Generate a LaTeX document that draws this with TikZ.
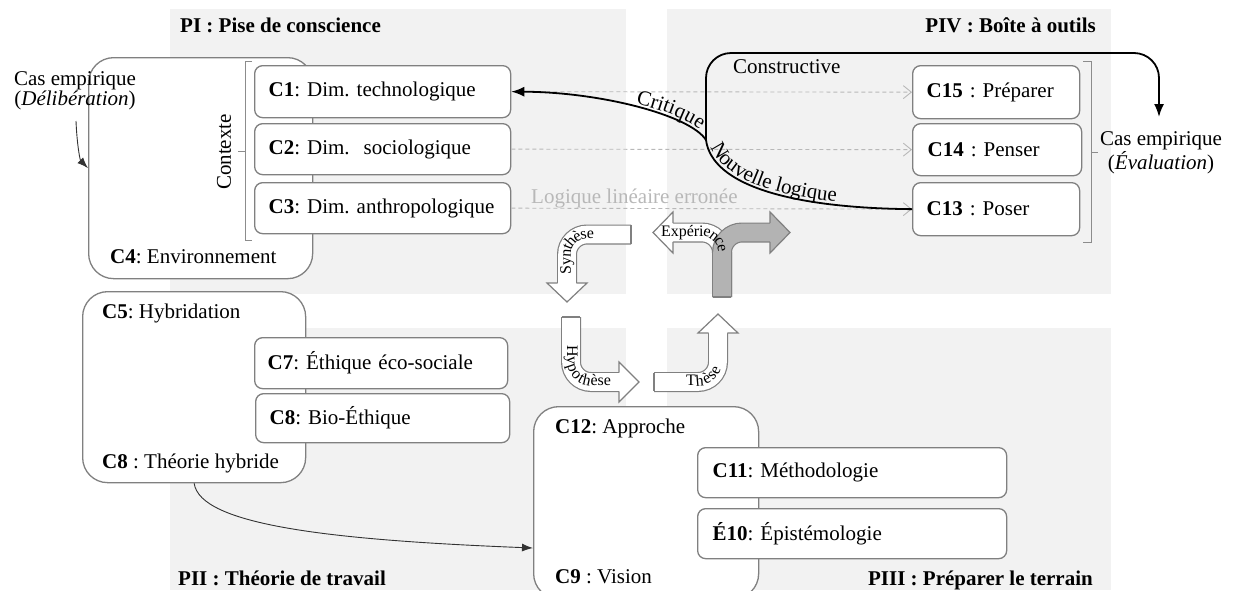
\documentclass[tikz,border=0pt]{standalone}
\usepackage{fontspec}
\setmainfont{Liberation Serif}
\usetikzlibrary{arrows.meta,decorations.text}
\frenchspacing

\definecolor{zone}{HTML}{F2F2F2}
\definecolor{edge}{HTML}{808080}
\definecolor{faint}{HTML}{B8B8B8}
\definecolor{barrow}{HTML}{B3B3B3}
\definecolor{bracketgray}{HTML}{8C8C8C}

\newcommand{\lblfont}{\fontsize{21}{23}\selectfont}
\newcommand{\arwfont}{\fontsize{16}{18}\selectfont}

\tikzset{
  zonebg/.style={fill=zone, draw=none},
  bigbox/.style={draw=edge, line width=1.3pt, fill=white, rounded corners=25pt,
    inner sep=0pt, anchor=north west},
  cbox/.style={draw=edge, line width=1.3pt, fill=white, rounded corners=8pt,
    inner xsep=14pt, inner ysep=0pt, anchor=north west, align=left},
  title/.style={font=\lblfont\bfseries, inner sep=0pt},
  plain/.style={inner sep=0pt},
  faintlink/.style={draw=faint, line width=0.9pt, dash pattern=on 4pt off 3pt,
    -{Straight Barb[length=8pt,width=13pt,line width=0.9pt]}},
  boldlink/.style={draw=black, line width=1.8pt, -{Latex[length=13pt,width=10pt]}},
  thinlink/.style={draw=black!80, line width=0.9pt, -{Latex[length=11pt,width=8pt]}},
  bracket/.style={draw=bracketgray, line width=1pt},
  shaft/.style={draw=edge, line width=1.2pt, double=white, double distance=17.6pt,
    rounded corners=20pt},
  grayshaft/.style={shaft, double=barrow},
  head/.style={draw=edge, line width=1.2pt, fill=white, line join=miter},
  arwtext/.style={decorate, decoration={text along path, raise=-3.8pt,
    text={|\arwfont|#1}}},
  curvetext/.style={decorate, decoration={text along path, raise=3pt,
    text={|\lblfont|#1}}}
}

\begin{document}
\begin{tikzpicture}[x=1pt, y=-1pt, font=\lblfont]
\useasboundingbox (0,0) rectangle (1233,590);
\clip (0,0) rectangle (1233,590);

% the four phase zones
\fill[zonebg] (170,9) rectangle (626,294);
\fill[zonebg] (667,9) rectangle (1111,294);
\fill[zonebg] (170,328) rectangle (626,590);
\fill[zonebg] (667,328) rectangle (1111,590);

\node[title, anchor=base west] (p1) at (180,32) {PI : Pise de conscience};
\node[title, anchor=base east] (p4) at (1096,32) {PIV : Boîte à outils};
\node[title, anchor=base west] (p2) at (178,585) {PII : Théorie de travail};
\node[title, anchor=base east] (p3) at (1093,585) {PIII : Préparer le terrain};

% large container boxes
\node[bigbox, minimum width=224pt, minimum height=221pt] (c4) at (88,57) {};
\node[bigbox, minimum width=223pt, minimum height=191pt] (c5) at (82,291) {};
\node[bigbox, minimum width=225pt, minimum height=192pt] (c12) at (533,406) {};

\node[plain, anchor=base west] (c4l) at (110,263) {\textbf{C4}: Environnement};
\node[plain, anchor=base west] (c5l) at (102,318) {\textbf{C5}: Hybridation};
\node[plain, anchor=base west] (c8l) at (102,468) {\textbf{C8} : Théorie hybride};
\node[plain, anchor=base west] (c12l) at (555,433) {\textbf{C12}: Approche};
\node[plain, anchor=base west] (c9l) at (555,583) {\textbf{C9} : Vision};

% context dimensions and tool box
\node[cbox, minimum height=52pt, text width=228pt] (c1) at (254,65) {\textbf{C1}: Dim.\ technologique};
\node[cbox, minimum height=51pt, text width=228pt] (c2) at (254,123) {\textbf{C2}: Dim.\ \ sociologique};
\node[cbox, minimum height=51pt, text width=228pt] (c3) at (254,182) {\textbf{C3}: Dim.\ anthropologique};

\node[cbox, minimum height=53pt, text width=139pt, inner xsep=14pt] (c15) at (912,65) {\textbf{C15} : Préparer};
\node[cbox, minimum height=52pt, text width=139pt, inner xsep=15pt] (c14) at (912,123) {\textbf{C14} : Penser};
\node[cbox, minimum height=53pt, text width=139pt, inner xsep=14pt] (c13) at (912,182) {\textbf{C13} : Poser};

% dashed straight-line logic
\draw[faintlink] (c1.east) -- (c15.west);
\draw[faintlink] (c2.east) -- (c14.west);
\draw[faintlink] (c3.east) -- (c13.west);
\node[plain, anchor=base west, text=faint] (logl) at (531,203) {Logique linéaire erronée};

\node[cbox, minimum height=51pt, text width=227pt, inner xsep=13pt] (c7) at (254,337) {\textbf{C7}: Éthique éco-sociale};
\node[cbox, minimum height=49pt, text width=226pt] (c8) at (255,393) {\textbf{C8}: Bio-Éthique};
\node[cbox, minimum height=50pt, text width=279pt, inner xsep=15pt] (c11) at (697,447) {\textbf{C11}: Méthodologie};
\node[cbox, minimum height=50pt, text width=279pt, inner xsep=15pt] (e10) at (697,508) {\textbf{É10}: Épistémologie};

% brackets
\draw[bracket] (252,61) -- (245,61) -- (245,240) -- (252,240);
\draw[bracket] (245,151) -- (238,151);
\node[plain, rotate=90] (ctx) at (224,152) {Contexte};
\draw[bracket] (1083,61) -- (1091,61) -- (1091,242) -- (1083,242);
\draw[bracket] (1091,152) -- (1098,152);

% empirical cases
\node[plain, align=center, font=\fontsize{21}{19}\selectfont] (casl) at (75,91) {Cas empirique\\(\textit{Délibération})};
\node[plain, align=center, font=\fontsize{21}{22}\selectfont] (casr) at (1161,153) {Cas empirique\\(\textit{Évaluation})};
\coordinate (dl) at (76,121);
\draw[thinlink] (dl) .. controls (77,145) and (80,160) .. (c4.west);

% critique / new logic / constructive
\coordinate (j) at (706,140);
\coordinate (evtip) at (1159,117);
\draw[boldlink] (c13.west) .. controls (790,208) and (712,185) .. (j)
  .. controls (690,115) and (600,92) .. (c1.east);
\draw[boldlink, rounded corners=25pt] (j) -- (706,53) -- (1159,53) -- (evtip);
\node[plain, anchor=base west] (cons) at (733,73) {Constructive};
\path[curvetext=Critique, decoration={text align={right, right indent=11pt}}]
  (c1.east) .. controls (600,92) and (690,115) .. (j);
\path[curvetext=Nouvelle logique, decoration={text align={left, left indent=9pt}}]
  (j) .. controls (712,185) and (790,208) .. (c13.west);

% hybrid theory feeds the approach
\coordinate (c12in) at (533,548);
\draw[thinlink] (c5.south) .. controls (200,525) and (330,540) .. (c12in);

% cycle arrows: synthesis
\draw[shaft] (631,234.5) -- (567,234.5) -- (567,283);
\draw[edge, line width=1.2pt] (631,225.1) -- (631,243.9);
\draw[head] (557.6,283) -- (547,283) -- (567,302) -- (587,283) -- (576.4,283);
\path[arwtext=Synthèse, decoration={text align={left, left indent=9pt}}, rounded corners=20pt]
  (567,283) -- (567,234.5) -- (631,234.5);

% hypothesis
\draw[shaft] (571,317) -- (571,382) -- (619,382);
\draw[edge, line width=1.2pt] (561.6,317) -- (580.4,317);
\draw[head] (619,372.6) -- (619,362) -- (639,382) -- (619,402) -- (619,391.4);
\path[arwtext=Hypothèse, decoration={text align={left, left indent=28pt}}, rounded corners=20pt]
  (571,317) -- (571,382) -- (619,382);

% thesis
\draw[shaft] (654,382) -- (718,382) -- (718,333);
\draw[edge, line width=1.2pt] (654,372.6) -- (654,391.4);
\draw[head] (708.6,333) -- (698,333) -- (718,314) -- (738,333) -- (727.4,333);
\path[arwtext=Thèse, decoration={text align={left, left indent=32pt}}, rounded corners=20pt]
  (654,382) -- (718,382) -- (718,333);

% experience: split arrow
\draw[shaft] (722,297) -- (722,232.5) -- (673,232.5);
\draw[head] (673,241.9) -- (673,253) -- (653,232.5) -- (673,212) -- (673,223.1);
\draw[grayshaft] (722,297) -- (722,232.5) -- (770,232.5);
\draw[edge, line width=1.2pt] (712.6,297) -- (731.4,297);
\draw[head, fill=barrow] (770,223.1) -- (770,212) -- (790,232.5) -- (770,253) -- (770,241.9);
\path[arwtext=Expérience, decoration={text align={left, left indent=5pt}}, rounded corners=20pt]
  (656,232.5) -- (722,232.5) -- (722,297);
\end{tikzpicture}
\end{document}
